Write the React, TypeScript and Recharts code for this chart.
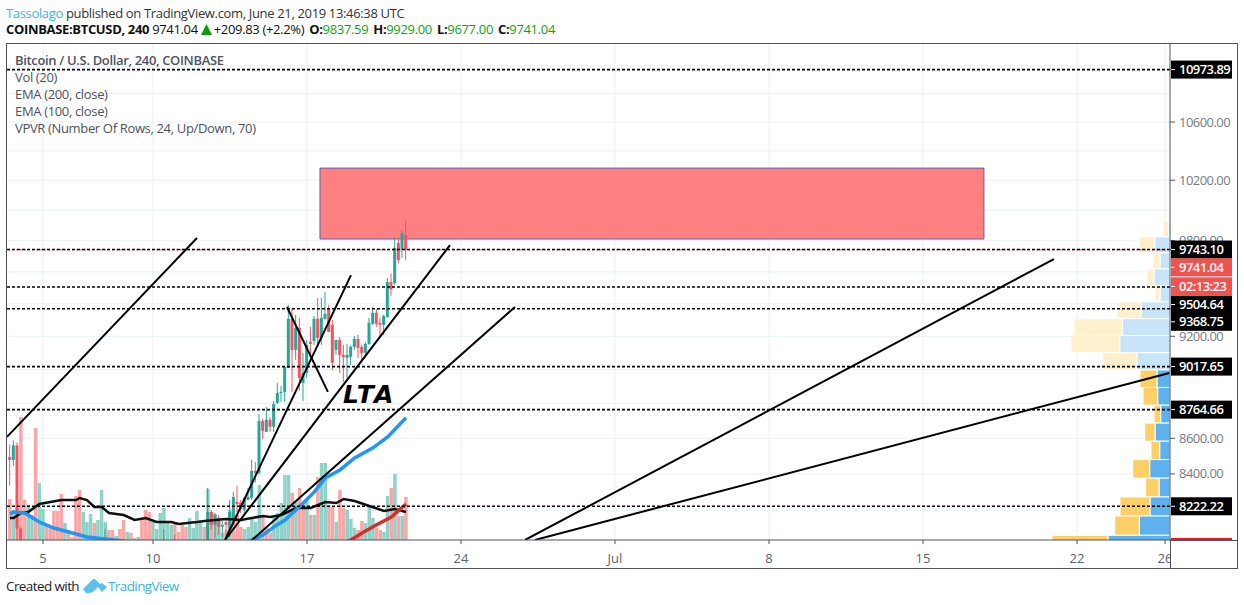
import React from 'react';
import { ComposedChart, Bar, Line, XAxis, YAxis, CartesianGrid, ReferenceLine, ReferenceArea } from 'recharts';

// 4h bars, first one opens June 3 12:00. Days count from June 1 = 1, July 1 = 31
const FIRST_DAY = 3.5;
const BARS_PER_DAY = 6;

const volumes = [
  41, 30, 32, 123, 40, 35, 25, 112, 57, 31, 15, 12, 29, 29, 46, 17, 10, 3, 44, 50, 28, 18, 26, 17, 20, 50, 18,
  10, 10, 4, 11, 20, 8, 7, 2, 3, 22, 30, 28, 18, 11, 27, 32, 19, 15, 18, 8, 15, 13, 22, 12, 29, 18, 13, 51,
  28, 26, 22, 7, 10, 30, 25, 25, 13, 11, 13, 22, 18, 55, 23, 12, 7, 22, 27, 37, 65, 65, 47, 38, 52, 35, 40,
  25, 25, 63, 77, 77, 35, 33, 18, 50, 32, 30, 21, 12, 10, 19, 17, 33, 22, 12, 10, 8, 44, 52, 66, 24, 24, 43,
];
const volumeUp = [
  0, 1, 0, 0, 0, 1, 1, 0, 1, 1, 0, 0, 0, 0, 0, 1, 0, 0, 0, 0, 1, 1, 1, 0, 1, 1, 1,
  0, 0, 1, 0, 0, 1, 0, 1, 0, 0, 0, 0, 1, 1, 1, 1, 1, 1, 0, 0, 0, 0, 1, 1, 1, 1, 0, 1,
  0, 1, 1, 1, 0, 1, 0, 0, 0, 1, 1, 1, 1, 1, 0, 0, 0, 1, 1, 1, 1, 1, 0, 1, 0, 0, 1,
  0, 1, 0, 1, 1, 0, 0, 1, 0, 0, 1, 1, 1, 0, 0, 1, 1, 1, 0, 0, 1, 1, 0, 1, 0, 1, 0,
];

// only the candles that reach into the visible price range
const candleBars = [
  0, 1, 2, 3, 26, 42, 45, 54, 55, 56, 57, 58, 59, 60, 61, 62, 63, 64, 65, 66, 67, 68, 69, 70, 71, 72, 73, 74, 75, 76, 77,
  78, 79, 80, 81, 82, 83, 84, 85, 86, 87, 88, 89, 90, 91, 92, 93, 94, 95, 96, 97, 98, 99, 100, 101, 102, 103, 104, 105, 106, 107, 108,
];
const opens = [
  8495, 8478, 8560, 8102, 7980, 7980, 8000, 7990, 8191, 8122, 8160, 8112, 8137, 8095, 8143, 8246, 8240, 8202, 8257, 8268, 8417, 8406, 8700, 8637, 8706, 8666, 8804, 8862, 8868, 9009, 9307,
  9118, 9252, 8921, 8980, 9166, 9172, 9307, 9190, 9307, 9368, 9270, 9118, 9178, 9088, 9070, 9076, 9136, 9184, 9136, 9100, 9154, 9276, 9344, 9282, 9270, 9319, 9536, 9530, 9785, 9747, 9837.59,
];
const highs = [
  8566, 8589, 8577, 8110, 8100, 8100, 8070, 8323, 8202, 8186, 8175, 8143, 8143, 8257, 8301, 8334, 8257, 8268, 8323, 8478, 8467, 8740, 8712, 8781, 8723, 8815, 8921, 8903, 9015, 9393, 9374,
  9331, 9313, 9100, 9178, 9258, 9325, 9437, 9437, 9473, 9393, 9300, 9178, 9196, 9148, 9154, 9148, 9202, 9208, 9148, 9166, 9313, 9380, 9368, 9313, 9331, 9562, 9590, 9820, 9820, 9863, 9929,
];
const lows = [
  8335, 8444, 8000, 7900, 7900, 7900, 7900, 7960, 8095, 8050, 8068, 8057, 8050, 8057, 8122, 8191, 8186, 8175, 8257, 8257, 8351, 8395, 8596, 8637, 8637, 8637, 8798, 8810, 8810, 9009, 8868,
  9058, 8874, 8815, 8950, 9070, 9148, 9136, 9148, 9301, 9226, 8997, 9088, 8980, 8927, 8950, 9028, 9118, 9070, 9046, 9070, 9148, 9270, 9258, 9190, 9208, 9313, 9450, 9518, 9655, 9689, 9677,
];
const closes = [
  8478, 8560, 8102, 7950, 7990, 7990, 7960, 8191, 8122, 8175, 8112, 8122, 8122, 8191, 8273, 8235, 8207, 8268, 8273, 8417, 8406, 8700, 8643, 8706, 8666, 8798, 8862, 8868, 9015, 9307, 9118,
  9252, 8950, 8980, 9148, 9154, 9307, 9190, 9313, 9338, 9226, 9040, 9178, 9088, 9076, 9088, 9136, 9184, 9130, 9100, 9154, 9282, 9344, 9276, 9270, 9325, 9536, 9490, 9753, 9676, 9850, 9741.04,
];

const ema100Bars = [0, 1, 4, 8, 12, 17, 21, 26, 31, 36, 60, 66, 69, 72, 75, 80, 83, 86, 90, 94, 99, 103, 108];
const ema100Values = [8180, 8191, 8186, 8137, 8105, 8078, 8057, 8046, 8036, 8015, 8000, 8041, 8068, 8111, 8148, 8240, 8301, 8378, 8422, 8489, 8546, 8608, 8718];
const ema200Bars = [80, 93, 96, 100, 104, 108];
const ema200Values = [7950, 8041, 8078, 8122, 8164, 8235];
const volMaBars = [0, 1, 3, 5, 8, 11, 14, 18, 19, 21, 23, 25, 27, 31, 34, 37, 40, 44, 46, 51, 53, 59, 63, 69, 71, 74, 78, 82, 86, 89, 91, 94, 98, 102, 105, 108];
const volMaValues = [22, 22, 27, 28, 36, 38, 40, 40, 42, 40, 33, 33, 27, 25, 20, 22, 18, 18, 16, 18, 19, 21, 20, 24, 23, 25, 32, 32, 38, 37, 41, 39, 34, 29, 31, 28];

const tickDays = [5, 10, 17, 24, 31, 38, 45, 52, 56];
const tickLabels = ['5', '10', '17', '24', 'Jul', '8', '15', '22', '26'];
const priceLabels = [10600, 10200, 9800, 9200, 8600, 8400];
const gridPrices = [11000, 10800, 10600, 10400, 10200, 10000, 9800, 9600, 9400, 9200, 9000, 8800, 8600, 8400, 8200];

const levels = [10973.89, 9743.1, 9504.64, 9368.75, 9017.65, 8764.66, 8222.22];
const lastPrice = 9741.04;
const countdown = '02:13:23';
const lowLabel = 8045;

// drawn trend lines: [day, price, day, price]
const trendLines = [
  [3.364, 8608, 12.0, 9818],
  [13.273, 8041, 19.0, 9580],
  [13.273, 8041, 23.5, 9772],
  [14.5, 8041, 26.45, 9380],
  [16.09, 9380, 17.95, 8868],
  [26.91, 8041, 50.95, 9682],
  [27.36, 8041, 56.2, 8980],
];
const zoneDays = [17.59, 47.77];
const zonePrices = [9811, 10282];

// volume profile rows, top edge of each row and up/down volume
const vpvrEdges = [
  9929, 9825.5, 9722, 9618.5, 9515, 9411.5, 9308, 9204.5, 9101, 8997.5, 8894, 8790.5, 8687, 8583.5, 8480, 8376.5, 8273, 8169.5, 8066, 7962.5,
];
const vpvrUp = [1.5, 15.3, 10, 16, 10, 29, 47.7, 50.3, 33, 13, 12.3, 9.3, 15, 10.3, 20.3, 11, 20, 30.7, 62];
const vpvrDown = [5.5, 15.7, 7, 7, 5, 24.3, 48.3, 48.7, 34.3, 17, 14.7, 6.7, 10.3, 8.7, 17, 13.3, 30, 24.6, 56];
const VPVR_VALUE_AREA_ROWS = 9;

const X_DOMAIN = [3.364, 56.227];
const Y_DOMAIN = [8041, 11161];
const PX_PER_DAY = 22;

const UP = '#26a69a';
const DOWN = '#f6525f';
const UI_FONT = '"Open Sans", "Noto Sans", sans-serif';
const TIGHT = -0.34;
const TIGHT_TAG = -0.55;

const table = volumes.map((v, i) => {
  const c = candleBars.indexOf(i);
  const e1 = ema100Bars.indexOf(i);
  const e2 = ema200Bars.indexOf(i);
  const m = volMaBars.indexOf(i);
  return {
    day: FIRST_DAY + i / BARS_PER_DAY,
    volume: v,
    up: volumeUp[i],
    open: c >= 0 ? opens[c] : null,
    close: c >= 0 ? closes[c] : null,
    range: c >= 0 ? [lows[c], highs[c]] : null,
    ema100: e1 >= 0 ? ema100Values[e1] : null,
    ema200: e2 >= 0 ? ema200Values[e2] : null,
    volMa: m >= 0 ? volMaValues[m] : null,
  };
});

const Candle = (props: any) => {
  const { x, y, width, height, payload } = props;
  if (!payload || payload.open == null) return <g />;
  const [low, high] = payload.range;
  // scale is log: place open and close between the wick ends
  const pos = (p: number) => y + (Math.log(high / p) / Math.log(high / low)) * height;
  const color = payload.close >= payload.open ? UP : DOWN;
  const top = pos(Math.max(payload.open, payload.close));
  const bottom = pos(Math.min(payload.open, payload.close));
  const cx = x + width / 2;
  return (
    <g>
      <line x1={cx} x2={cx} y1={y} y2={y + height} stroke={color} strokeWidth={1} />
      <rect x={x} y={top} width={width} height={Math.max(bottom - top, 1)} fill={color} />
    </g>
  );
};

const VolumeBar = (props: any) => {
  const { x, y, width, height, payload } = props;
  return <rect x={x} y={y} width={width} height={height} fill={payload.up ? '#8fd2c8' : '#f9a6a6'} />;
};

const Tag = ({ y, text, bg }: any) => (
  <g>
    <rect x={1171} y={y - 9} width={61} height={18} fill={bg} />
    <line x1={1171} x2={1175} y1={y} y2={y} stroke="#fff" />
    <text x={1179} y={y + 4.5} fill="#fff" fontSize={13} fontFamily={UI_FONT} fontWeight={600} letterSpacing={TIGHT_TAG}>
      {text}
    </text>
  </g>
);

// labels pushed apart the way the price scale stacks them
const tagShift: Record<string, number> = { '9504.64': 17.5, '9368.75': 13 };

const PriceTick = (props: any) => {
  const { y, payload } = props;
  const value = payload.value;
  if (value === lastPrice) {
    return (
      <g>
        <Tag y={y + 17.5} text={value.toFixed(2)} bg="#ef5350" />
        <Tag y={y + 36.5} text={countdown} bg="#ef5350" />
      </g>
    );
  }
  if (value === lowLabel) {
    return (
      <g>
        <clipPath id="low-clip">
          <rect x={1170} y={520} width={70} height={20} />
        </clipPath>
        <g clipPath="url(#low-clip)">
          <text x={1179} y={y + 9} fill="#787b86" fontSize={13} fontFamily={UI_FONT} letterSpacing={TIGHT_TAG}>
            {value.toFixed(2)}
          </text>
          <rect x={1171} y={538} width={61} height={2} fill="#f01818" />
        </g>
      </g>
    );
  }
  if (levels.includes(value)) {
    const label = value.toFixed(2);
    return <Tag y={y + (tagShift[label] || 0)} text={label} bg="#000" />;
  }
  return (
    <text x={1179} y={y + 4.5} fill="#787b86" fontSize={13} fontFamily={UI_FONT} letterSpacing={TIGHT_TAG}>
      {value.toFixed(2)}
    </text>
  );
};

const DayTick = (props: any) => {
  const { x, y, payload, index } = props;
  const clip = payload.value === 56;
  return (
    <g>
      {clip && (
        <clipPath id="day-clip">
          <rect x={1100} y={540} width={70} height={28} />
        </clipPath>
      )}
      <text
        x={x}
        y={y + 17}
        textAnchor="middle"
        fill="#5d606b"
        fontSize={13}
        fontFamily={UI_FONT}
        clipPath={clip ? 'url(#day-clip)' : undefined}
      >
        {tickLabels[index]}
      </text>
    </g>
  );
};

const axisIds = { xAxisId: 'price', yAxisId: 'price' };
const ohlcKey = { marginLeft: 2 };

export default function App() {
  return (
    <div style={{ position: 'absolute', left: 0, top: 0, width: 1244, height: 605, background: '#fff', overflow: 'hidden' }}>
      <div style={{ position: 'absolute', left: 6, top: 4, fontFamily: UI_FONT, fontSize: 13, letterSpacing: TIGHT, color: '#333', whiteSpace: 'nowrap' }}>
        <span style={{ color: '#3bb3e4' }}>Tassolago</span> published on TradingView.com, June 21, 2019 13:46:38 UTC
      </div>
      <div style={{ position: 'absolute', left: 6, top: 20, fontFamily: UI_FONT, fontSize: 13, letterSpacing: TIGHT, color: '#111', whiteSpace: 'nowrap' }}>
        <b>COINBASE:BTCUSD, 240</b> 9741.04
        <svg width={11} height={11} viewBox="0 0 11 11" style={{ margin: '0 2px 0 3px', verticalAlign: -1 }}>
          <polygon points="5.5,0 11,11 0,11" fill="#0c9a0c" />
        </svg>
        +209.83 (+2.2%) <b style={ohlcKey}>O:</b>
        <span style={{ color: '#0fa30f' }}>9837.59</span> <b style={ohlcKey}>H:</b>
        <span style={{ color: '#0fa30f' }}>9929.00</span> <b style={ohlcKey}>L:</b>
        <span style={{ color: '#0fa30f' }}>9677.00</span> <b style={ohlcKey}>C:</b>
        <span style={{ color: '#0fa30f' }}>9741.04</span>
      </div>

      <ComposedChart
        width={1244}
        height={605}
        data={table}
        margin={{ top: 44, right: 7, bottom: 37, left: 7 }}
        style={{ position: 'absolute', left: 0, top: 0 }}
      >
        <CartesianGrid
          xAxisId="price"
          yAxisId="price"
          stroke="#e9f0f5"
          horizontalValues={gridPrices}
          verticalValues={tickDays}
        />
        <XAxis
          xAxisId="price"
          dataKey="day"
          type="number"
          domain={X_DOMAIN}
          allowDataOverflow
          ticks={tickDays}
          interval={0}
          height={28}
          tick={<DayTick />}
          tickSize={4}
          stroke="#50535e"
        />
        <XAxis xAxisId="vol" dataKey="day" type="number" domain={X_DOMAIN} allowDataOverflow hide />
        <YAxis
          yAxisId="price"
          orientation="right"
          type="number"
          scale="log"
          domain={Y_DOMAIN}
          allowDataOverflow
          ticks={[...priceLabels, ...levels, lastPrice, lowLabel]}
          interval={0}
          width={67}
          tick={<PriceTick />}
          tickSize={5}
          stroke="#50535e"
        />
        <YAxis yAxisId="vol" orientation="left" type="number" domain={[0, 496]} allowDataOverflow hide />

        <ReferenceArea
          {...axisIds}
          x1={zoneDays[0]}
          x2={zoneDays[1]}
          y1={zonePrices[0]}
          y2={zonePrices[1]}
          fill="#ff8080"
          fillOpacity={1}
          stroke="#5f5fae"
          strokeWidth={1}
          ifOverflow="hidden"
        />

        <Bar
          xAxisId="vol"
          yAxisId="vol"
          dataKey="volume"
          barSize={3.5}
          shape={<VolumeBar />}
          isAnimationActive={false}
        />
        <Line
          xAxisId="vol"
          yAxisId="vol"
          dataKey="volMa"
          stroke="#111"
          strokeWidth={2.5}
          dot={false}
          connectNulls
          isAnimationActive={false}
        />
        <Line
          {...axisIds}
          dataKey="ema100"
          stroke="#2196f3"
          strokeWidth={3.5}
          dot={false}
          connectNulls
          isAnimationActive={false}
        />
        <Line
          {...axisIds}
          dataKey="ema200"
          stroke="#d32f2f"
          strokeWidth={3.5}
          dot={false}
          connectNulls
          isAnimationActive={false}
        />
        <Bar {...axisIds} dataKey="range" barSize={3} shape={<Candle />} isAnimationActive={false} />

        {vpvrUp.map((up, i) => {
          const faded = i < VPVR_VALUE_AREA_ROWS;
          const mid = X_DOMAIN[1] - up / PX_PER_DAY;
          return (
            <React.Fragment key={`vpvr-${i}`}>
              <ReferenceArea
                {...axisIds}
                x1={mid}
                x2={X_DOMAIN[1]}
                y1={vpvrEdges[i + 1]}
                y2={vpvrEdges[i]}
                fill={faded ? '#c7e4f9' : '#5fb1ee'}
                fillOpacity={1}
                stroke="#fff"
                ifOverflow="hidden"
              />
              <ReferenceArea
                {...axisIds}
                x1={mid - vpvrDown[i] / PX_PER_DAY}
                x2={mid}
                y1={vpvrEdges[i + 1]}
                y2={vpvrEdges[i]}
                fill={faded ? '#fef0cd' : '#fdd067'}
                fillOpacity={1}
                stroke="#fff"
                ifOverflow="hidden"
              />
            </React.Fragment>
          );
        })}

        <ReferenceLine {...axisIds} y={lastPrice} stroke="#ef5350" strokeDasharray="2 2" />
        {levels.map((level) => (
          <ReferenceLine key={level} {...axisIds} y={level} stroke="#000" strokeWidth={1.6} strokeDasharray="3 2" />
        ))}
        {trendLines.map((t, i) => (
          <ReferenceLine
            key={`trend-${i}`}
            {...axisIds}
            segment={[
              { x: t[0], y: t[1] },
              { x: t[2], y: t[3] },
            ]}
            stroke="#000"
            strokeWidth={2}
            ifOverflow="hidden"
          />
        ))}
      </ComposedChart>

      {/* frame around the chart and the piece of axis the plot does not cover */}
      <div style={{ position: 'absolute', left: 6, top: 43, width: 1230, height: 524, border: '1px solid #50535e', pointerEvents: 'none' }} />
      <div style={{ position: 'absolute', left: 1170, top: 540, width: 67, height: 1, background: '#50535e' }} />
      <div style={{ position: 'absolute', left: 1170, top: 540, width: 1, height: 28, background: '#50535e' }} />

      <div style={{ position: 'absolute', left: 15, top: 52, fontFamily: UI_FONT, fontSize: 13, letterSpacing: TIGHT, lineHeight: '17px', color: '#4c525e', whiteSpace: 'nowrap' }}>
        <div style={{ fontWeight: 600 }}>Bitcoin / U.S. Dollar, 240, COINBASE</div>
        <div>Vol (20)</div>
        <div>EMA (200, close)</div>
        <div>EMA (100, close)</div>
        <div>VPVR (Number Of Rows, 24, Up/Down, 70)</div>
      </div>

      <div style={{ position: 'absolute', left: 343, top: 380, fontFamily: '"DejaVu Sans"', fontSize: 25, fontWeight: 700, fontStyle: 'italic', letterSpacing: 2, color: '#000' }}>
        LTA
      </div>

      <div style={{ position: 'absolute', left: 6, top: 577, fontFamily: UI_FONT, fontSize: 13.5, letterSpacing: -0.6, color: '#222', whiteSpace: 'nowrap', display: 'flex', alignItems: 'center' }}>
        Created with
        <svg width={24} height={16} viewBox="0 0 24 16" style={{ marginLeft: 4, marginRight: 1 }}>
          <path d="M0 11 L9 2 Q11 0 13 2 L17 6 L19 5 L24 9 L19 14 L15 9 L11 13 Q9 15 6 15 L3 15 Z" fill="#5cc0ea" />
        </svg>
        <span style={{ color: '#3bb3e4' }}>TradingView</span>
      </div>
    </div>
  );
}
